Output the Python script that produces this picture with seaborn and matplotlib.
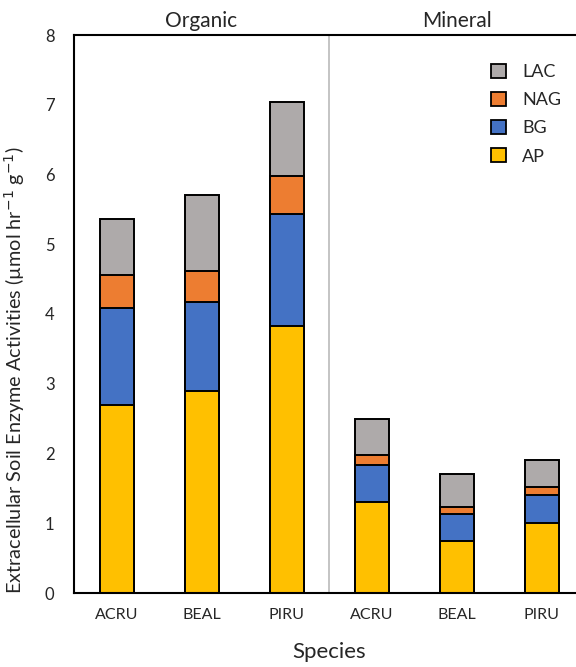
import matplotlib
matplotlib.use("Agg")
import matplotlib.pyplot as plt
import seaborn as sns
import pandas as pd
import numpy as np
from matplotlib.patches import Patch

sns.set_theme(style="white")
plt.rcParams["font.family"] = ["Lato", "DejaVu Sans"]

# Data: enzyme activities per species and soil horizon
horizons = ["Organic", "Organic", "Organic", "Mineral", "Mineral", "Mineral"]
species = ["ACRU", "BEAL", "PIRU", "ACRU", "BEAL", "PIRU"]
AP = [2.70, 2.90, 3.83, 1.30, 0.74, 1.00]
BG = [1.39, 1.27, 1.61, 0.54, 0.39, 0.41]
NAG = [0.47, 0.45, 0.54, 0.14, 0.10, 0.11]
LAC = [0.80, 1.08, 1.06, 0.51, 0.47, 0.39]

enzymes = ["AP", "BG", "NAG", "LAC"]
colors = {"AP": "#FFC000", "BG": "#4472C4", "NAG": "#ED7D31", "LAC": "#AEAAAA"}

keys = [f"{h}-{s}" for h, s in zip(horizons, species)]
df = pd.DataFrame({"key": keys, "AP": AP, "BG": BG, "NAG": NAG, "LAC": LAC})
cum = df[enzymes].cumsum(axis=1)

fig = plt.figure(figsize=(5.76, 6.67), dpi=100)
ax = fig.add_axes([74 / 576, 1 - 593 / 667, 510 / 576, (593 - 35) / 667])

# Stacked bars: draw cumulative totals from the top layer down
for enz in reversed(enzymes):
    sns.barplot(x=df["key"], y=cum[enz], order=keys, color=colors[enz],
                saturation=1, width=0.4, edgecolor="black", linewidth=1.4,
                ax=ax, zorder=2)

ax.set_ylim(0, 8)
ax.set_xlim(-0.5, 5.5)
ax.set_yticks(range(0, 9))
ax.set_xticks(range(6))
ax.set_xticklabels(species, fontsize=11.5)
ax.tick_params(axis="y", labelsize=12, length=0, pad=14)
ax.tick_params(axis="x", length=0, pad=11)
ax.set_xlabel("Species", fontsize=16, labelpad=14)
ax.set_ylabel("Extracellular Soil Enzyme Activities (µmol hr$^{-1}$ g$^{-1}$)",
              fontsize=14.3, labelpad=6)
ax.yaxis.set_label_coords(-0.092, 0.40)

for side in ["left", "bottom", "top"]:
    ax.spines[side].set_color("black")
    ax.spines[side].set_linewidth(1.5)
ax.spines["right"].set_visible(False)

ax.axvline(2.5, color="#BFBFBF", linewidth=1.3, zorder=1)

ax.text(1, 1.008, "Organic", transform=ax.get_xaxis_transform(),
        ha="center", va="bottom", fontsize=15)
ax.text(4, 1.008, "Mineral", transform=ax.get_xaxis_transform(),
        ha="center", va="bottom", fontsize=15)

handles = [Patch(facecolor=colors[e], edgecolor="black", linewidth=1.3, label=e)
           for e in ["LAC", "NAG", "BG", "AP"]]
ax.legend(handles=handles, loc="upper left", bbox_to_anchor=(0.785, 0.978),
          frameon=False, fontsize=13, handlelength=0.85, handleheight=0.85,
          handletextpad=0.9, labelspacing=0.65)

fig.savefig("out.png", dpi=100)
